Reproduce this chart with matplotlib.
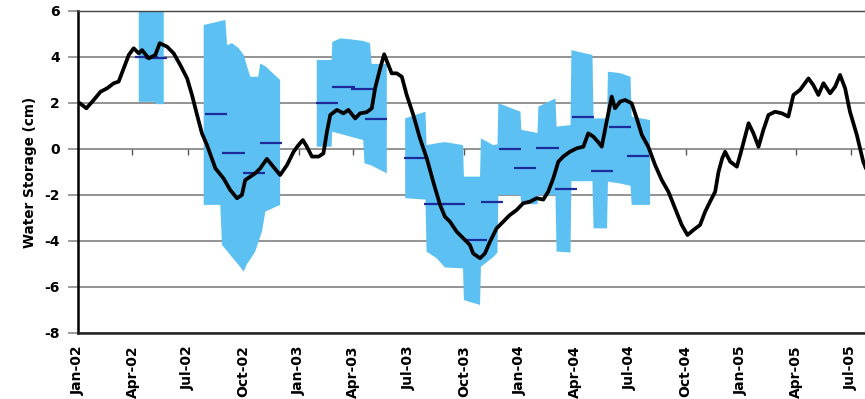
import numpy as np
import matplotlib
matplotlib.use("Agg")
import matplotlib.pyplot as plt
import matplotlib.dates as mdates
from datetime import datetime

plt.rcParams["font.family"] = ["DejaVu Sans"]
plt.rcParams["axes.unicode_minus"] = False

# ---- modelled water storage (cm), time in decimal years ----
line_t = [2002.007, 2002.038, 2002.071, 2002.102, 2002.132, 2002.162, 2002.184, 2002.207,
          2002.230, 2002.252, 2002.275, 2002.290, 2002.320, 2002.350, 2002.370, 2002.403,
          2002.433, 2002.463, 2002.494, 2002.516, 2002.539, 2002.561, 2002.584, 2002.622,
          2002.659, 2002.689, 2002.720, 2002.742, 2002.757, 2002.780, 2002.802, 2002.825,
          2002.855, 2002.878, 2002.915, 2002.946, 2002.976, 2002.998, 2003.018, 2003.036,
          2003.059, 2003.089, 2003.111, 2003.127, 2003.142, 2003.172, 2003.202, 2003.224,
          2003.255, 2003.277, 2003.307, 2003.330, 2003.345, 2003.368, 2003.386, 2003.405,
          2003.420, 2003.443, 2003.466, 2003.488, 2003.518, 2003.548, 2003.579, 2003.608,
          2003.639, 2003.661, 2003.684, 2003.714, 2003.744, 2003.774, 2003.789, 2003.820,
          2003.842, 2003.865, 2003.895, 2003.925, 2003.955, 2003.986, 2004.015, 2004.046,
          2004.076, 2004.106, 2004.128, 2004.151, 2004.174, 2004.196, 2004.226, 2004.257,
          2004.287, 2004.309, 2004.332, 2004.354, 2004.370, 2004.392, 2004.415, 2004.430,
          2004.453, 2004.475, 2004.505, 2004.528, 2004.551, 2004.580, 2004.611, 2004.641,
          2004.671, 2004.701, 2004.731, 2004.757, 2004.784, 2004.814, 2004.837, 2004.859,
          2004.882, 2004.897, 2004.914, 2004.927, 2004.950, 2004.980, 2005.003, 2005.033,
          2005.055, 2005.078, 2005.100, 2005.123, 2005.153, 2005.184, 2005.213, 2005.236,
          2005.266, 2005.304, 2005.326, 2005.349, 2005.372, 2005.402, 2005.425, 2005.447,
          2005.470, 2005.492, 2005.523, 2005.552, 2005.583]
line_v = [2.00, 1.77, 2.13, 2.49, 2.64, 2.86, 2.93, 3.51,
          4.09, 4.38, 4.16, 4.30, 3.94, 4.09, 4.60, 4.45,
          4.16, 3.65, 3.07, 2.35, 1.48, 0.68, 0.17, -0.84,
          -1.28, -1.78, -2.14, -2.00, -1.35, -1.20, -1.06, -0.84,
          -0.43, -0.70, -1.13, -0.70, -0.12, 0.17, 0.39, 0.10,
          -0.33, -0.33, -0.19, 0.75, 1.48, 1.70, 1.55, 1.70,
          1.33, 1.55, 1.60, 1.77, 2.64, 3.51, 4.12, 3.65,
          3.29, 3.29, 3.14, 2.35, 1.48, 0.46, -0.41, -1.42,
          -2.43, -2.94, -3.16, -3.59, -3.88, -4.17, -4.54, -4.75,
          -4.54, -4.03, -3.45, -3.16, -2.87, -2.65, -2.36, -2.29,
          -2.14, -2.20, -1.86, -1.28, -0.55, -0.33, -0.12, 0.03,
          0.10, 0.68, 0.54, 0.30, 0.10, 1.19, 2.28, 1.77,
          2.06, 2.13, 1.99, 1.33, 0.61, 0.10, -0.70, -1.35,
          -1.86, -2.58, -3.30, -3.74, -3.52, -3.30, -2.72, -2.29,
          -1.86, -1.00, -0.40, -0.12, -0.55, -0.77, 0.03, 1.12,
          0.68, 0.10, 0.83, 1.48, 1.62, 1.55, 1.41, 2.35,
          2.57, 3.07, 2.78, 2.35, 2.86, 2.42, 2.71, 3.22,
          2.64, 1.62, 0.61, -0.55, -1.30]

# ---- monthly satellite estimates: uncertainty envelopes ----
band1_t = [2002.275, 2002.350, 2002.352, 2002.388]
band1_lo = [2.05, 2.05, 1.95, 1.95]
band1_hi = [6.30, 6.30, 6.30, 6.30]

band2_t = [2002.569, 2002.644, 2002.652, 2002.667, 2002.675, 2002.697, 2002.727, 2002.750,
           2002.765, 2002.780, 2002.802, 2002.816, 2002.825, 2002.833, 2002.848, 2002.915]
band2_lo = [-2.43, -2.43, -4.17, -4.35, -4.43, -4.70, -5.04, -5.33,
            -5.00, -4.80, -4.46, -4.07, -3.81, -3.59, -2.72, -2.43]
band2_hi = [5.39, 5.56, 5.58, 5.61, 4.52, 4.60, 4.39, 4.09,
            3.60, 3.14, 3.14, 3.14, 3.72, 3.68, 3.60, 3.00]

band3_t = [2003.081, 2003.148, 2003.151, 2003.187, 2003.232, 2003.291, 2003.297, 2003.322,
           2003.329, 2003.398]
band3_lo = [0.10, 0.10, 0.75, 0.66, 0.54, 0.39, -0.62, -0.70, -0.72, -1.06]
band3_hi = [3.87, 3.87, 4.65, 4.81, 4.77, 4.70, 4.68, 4.60, 3.70, 3.70]

band4_t = [2003.481, 2003.573, 2003.578, 2003.624, 2003.661, 2003.743, 2003.747, 2003.820,
           2003.824, 2003.880, 2003.899, 2003.903, 2004.003, 2004.007, 2004.080, 2004.084,
           2004.161, 2004.166, 2004.229, 2004.233, 2004.294, 2004.328, 2004.333, 2004.394,
           2004.398, 2004.453, 2004.500, 2004.505, 2004.588]
band4_lo = [-2.14, -2.20, -4.46, -4.75, -5.15, -5.19, -6.57, -6.78,
            -5.12, -4.70, -4.50, -2.00, -2.00, -2.40, -2.40, -2.00,
            -2.00, -4.46, -4.50, -1.40, -1.40, -1.40, -3.45, -3.45,
            -1.42, -1.50, -1.60, -2.43, -2.43]
band4_hi = [1.33, 1.62, 0.17, 0.25, 0.30, 0.17, -1.20, -1.20,
            0.46, 0.17, 0.20, 1.99, 1.62, 0.83, 0.70, 1.84,
            2.20, 0.97, 1.04, 4.30, 4.16, 4.09, 1.33, 1.33,
            3.36, 3.30, 3.14, 1.41, 1.26]

# ---- monthly mean estimates ----
mean_t = [2002.310, 2002.355, 2002.624, 2002.704, 2002.795, 2002.872,
          2003.126, 2003.202, 2003.285, 2003.349,
          2003.526, 2003.616, 2003.702, 2003.802, 2003.873, 2003.955,
          2004.023, 2004.125, 2004.208, 2004.287, 2004.373, 2004.453, 2004.535]
mean_v = [4.02, 3.97, 1.51, -0.16, -1.06, 0.25,
          1.99, 2.71, 2.62, 1.31,
          -0.41, -2.39, -2.39, -3.96, -2.29, -0.01,
          -0.81, 0.06, -1.75, 1.41, -0.94, 0.94, -0.29]

y_ticks = [-8, -6, -4, -2, 0, 2, 4, 6]


def to_num(t):
    """Decimal year -> matplotlib date number."""
    out = []
    for v in np.atleast_1d(t):
        y = int(np.floor(v))
        a, b = datetime(y, 1, 1), datetime(y + 1, 1, 1)
        out.append(mdates.date2num(a + (b - a) * (v - y)))
    return np.array(out)


BAND = "#5cc1f2"
MEAN = "#1c2a9a"
GRID = "#8a8a8a"

fig = plt.figure(figsize=(8.65, 3.99), dpi=100)
ax = fig.add_axes([78 / 865, 66 / 399, 787 / 865, 322 / 399])

for bt, blo, bhi in [(band1_t, band1_lo, band1_hi), (band2_t, band2_lo, band2_hi),
                     (band3_t, band3_lo, band3_hi), (band4_t, band4_lo, band4_hi)]:
    xs = np.concatenate([to_num(bt), to_num(bt[::-1])])
    ys = np.concatenate([bhi, blo[::-1]])
    ax.fill(xs, ys, color=BAND, lw=0, zorder=2)

half = 0.05
ax.hlines(mean_v, to_num(np.array(mean_t) - half), to_num(np.array(mean_t) + half),
          colors=MEAN, lw=1.6, zorder=3)

ax.plot(to_num(line_t), line_v, color="black", lw=2.7, solid_joinstyle="round",
        solid_capstyle="round", zorder=4)

# quarter ticks along the zero line
quarters = [datetime(y, m, 1) for y in range(2002, 2006) for m in (1, 4, 7, 10)
            if datetime(y, m, 1) <= datetime(2005, 7, 1)]
qnum = mdates.date2num(quarters)
ax.plot(qnum, np.zeros(len(qnum)), ls="none", marker=3, ms=4, mew=1.0,
        color="#555555", zorder=1.5)

ax.set_xlim(to_num(2002.0)[0], to_num(2005.560)[0])
ax.set_ylim(-8, 6)
ax.set_xticks(qnum)
ax.xaxis.set_major_formatter(mdates.DateFormatter("%b-%y"))
ax.set_yticks(y_ticks)

ax.set_axisbelow(True)
ax.grid(axis="y", color=GRID, lw=1.3)
ax.grid(axis="x", visible=False)

ax.tick_params(axis="x", length=0, pad=9, labelsize=10, labelrotation=90)
ax.tick_params(axis="y", length=7, width=1.2, color=GRID, pad=6, labelsize=10)
for lab in ax.get_xticklabels() + ax.get_yticklabels():
    lab.set_fontweight("bold")

ax.spines["right"].set_visible(False)
ax.spines["top"].set_color("#444444")
ax.spines["top"].set_linewidth(1.0)
ax.spines["left"].set_color("black")
ax.spines["left"].set_linewidth(1.8)
ax.spines["bottom"].set_color("#222222")
ax.spines["bottom"].set_linewidth(1.8)

ax.set_ylabel("Water Storage (cm)", fontsize=9.8, fontweight="bold")
ax.yaxis.set_label_coords(-0.052, 0.5)

fig.savefig("out.png", dpi=100)
